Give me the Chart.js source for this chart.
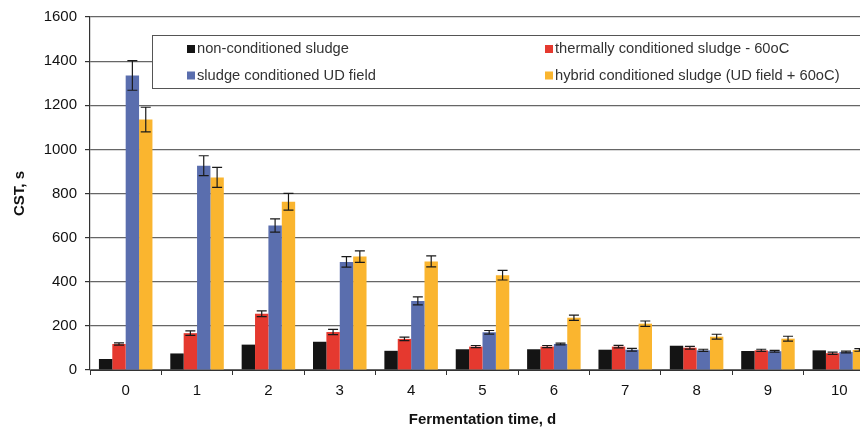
<!DOCTYPE html>
<html>
<head>
<meta charset="utf-8">
<script src="https://cdn.jsdelivr.net/npm/chart.js@4/dist/chart.umd.min.js"></script>
<style>
  html, body { margin: 0; padding: 0; background: #fff; overflow: hidden; }
  #wrap { width: 860px; height: 430px; overflow: hidden; position: relative; }
  canvas { display: block; }
</style>
</head>
<body>
<div id="wrap"><canvas id="c" width="880" height="430"></canvas></div>
<script>
// Fermentation days
const days = ['0', '1', '2', '3', '4', '5', '6', '7', '8', '9', '10'];

// Capillary suction time (s) per sludge type
const nonConditioned = [50, 75, 115, 128, 87, 94, 94, 92, 110, 86, 89];
const thermal60 = [118, 167, 255, 172, 141, 106, 106, 106, 101, 89, 76];
const udField = [1335, 926, 655, 490, 313, 171, 118, 92, 89, 85, 82];
const hybrid = [1135, 873, 763, 514, 492, 430, 237, 210, 151, 142, 91];

// Standard deviations
const nonConditionedErr = [0, 0, 0, 0, 0, 0, 0, 0, 0, 0, 0];
const thermal60Err = [5, 10, 13, 12, 8, 5, 5, 6, 6, 5, 5];
const udFieldErr = [67, 45, 30, 24, 18, 8, 4, 6, 5, 4, 4];
const hybridErr = [56, 45, 38, 26, 25, 22, 12, 12, 11, 11, 6];

const seriesLabels = [
  'non-conditioned sludge',
  'thermally conditioned sludge - 60oC',
  'sludge conditioned UD field',
  'hybrid conditioned sludge (UD field + 60oC)'
];
const seriesColors = ['#141414', '#e5392f', '#5a6eae', '#fab52f'];

const errorBars = {
  id: 'errorBars',
  afterDatasetsDraw(chart) {
    const ctx = chart.ctx;
    const y = chart.scales.y;
    ctx.save();
    ctx.strokeStyle = '#1a1a1a';
    ctx.lineWidth = 1.2;
    chart.data.datasets.forEach((ds, i) => {
      const meta = chart.getDatasetMeta(i);
      meta.data.forEach((bar, j) => {
        const e = ds.errors[j];
        if (!e) return;
        const v = ds.data[j];
        const top = y.getPixelForValue(v + e);
        const bot = y.getPixelForValue(v - e);
        const x = bar.x;
        const cap = 5;
        ctx.beginPath();
        ctx.moveTo(x, top); ctx.lineTo(x, bot);
        ctx.moveTo(x - cap, top); ctx.lineTo(x + cap, top);
        ctx.moveTo(x - cap, bot); ctx.lineTo(x + cap, bot);
        ctx.stroke();
      });
    });
    ctx.restore();
  }
};

const boxLegend = {
  id: 'boxLegend',
  afterDraw(chart) {
    const ctx = chart.ctx;
    const left = 152.5, top = 35.5, right = 900, bottom = 88.5;
    ctx.save();
    ctx.fillStyle = '#ffffff';
    ctx.fillRect(left, top, right - left, bottom - top);
    ctx.strokeStyle = '#555';
    ctx.lineWidth = 1;
    ctx.strokeRect(left, top, right - left, bottom - top);
    const cols = [187, 545];
    const rows = [49, 75.5];
    ctx.font = '14.7px "Liberation Sans", Arial, sans-serif';
    ctx.textBaseline = 'middle';
    ctx.textAlign = 'left';
    chart.data.datasets.forEach((ds, i) => {
      const cx = cols[i % 2];
      const cy = rows[Math.floor(i / 2)];
      ctx.fillStyle = ds.backgroundColor;
      ctx.fillRect(cx, cy - 4, 8, 8);
      ctx.fillStyle = '#333';
      ctx.fillText(ds.label, cx + 10, cy);
    });
    ctx.restore();
  }
};

const series = [nonConditioned, thermal60, udField, hybrid];
const seriesErr = [nonConditionedErr, thermal60Err, udFieldErr, hybridErr];

new Chart(document.getElementById('c'), {
  type: 'bar',
  data: {
    labels: days,
    datasets: series.map((d, i) => ({
      label: seriesLabels[i],
      data: d,
      errors: seriesErr[i],
      backgroundColor: seriesColors[i],
      borderWidth: 0,
      categoryPercentage: 0.75,
      barPercentage: 1.0
    }))
  },
  options: {
    responsive: false,
    animation: false,
    devicePixelRatio: 1,
    layout: { padding: { top: 17, right: 5, bottom: 0, left: 0 } },
    plugins: {
      legend: { display: false },
      tooltip: { enabled: false }
    },
    scales: {
      x: {
        grid: {
          display: true,
          drawOnChartArea: false,
          drawTicks: true,
          tickLength: 5,
          color: '#333'
        },
        border: { display: true, color: '#333', width: 1 },
        ticks: {
          color: '#111',
          padding: 7,
          font: { family: '"Liberation Sans", Arial, sans-serif', size: 15 }
        },
        title: {
          display: true,
          text: 'Fermentation time, d',
          color: '#111',
          padding: { top: 0, bottom: 1 },
          font: { family: '"Liberation Sans", Arial, sans-serif', size: 15, weight: 'bold' }
        },
        afterFit(scale) { scale.height = 60; }
      },
      y: {
        min: 0,
        max: 1600,
        ticks: {
          stepSize: 200,
          color: '#111',
          padding: 8,
          callback: (v) => String(v),
          font: { family: '"Liberation Sans", Arial, sans-serif', size: 15 }
        },
        grid: {
          color: '#666',
          lineWidth: 1.2,
          tickLength: 5,
          tickColor: '#333'
        },
        border: { display: true, color: '#333', width: 1.2 },
        title: {
          display: true,
          text: 'CST, s',
          color: '#111',
          padding: { top: 11, bottom: 0 },
          font: { family: '"Liberation Sans", Arial, sans-serif', size: 15, weight: 'bold' }
        },
        afterFit(scale) { scale.width = 90; }
      }
    }
  },
  plugins: [errorBars, boxLegend]
});
</script>
</body>
</html>
